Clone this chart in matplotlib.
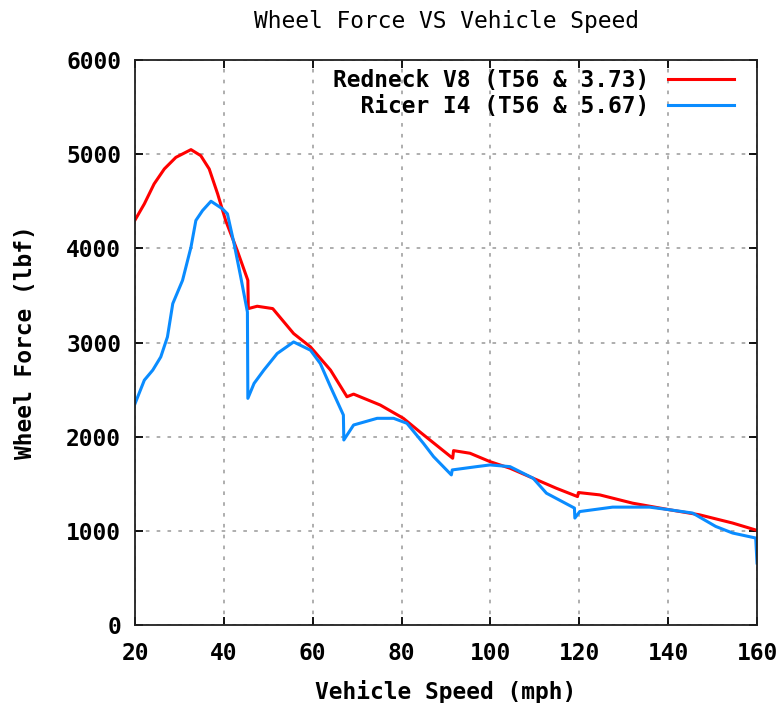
import matplotlib
matplotlib.use('Agg')
import matplotlib.pyplot as plt

# curves (mph, lbf)
speed_v8 = [20, 22.1, 24.3, 26.6, 29.2, 32.6, 34.8, 36.7, 38.6, 40.4,
            43.0, 45.4, 45.5, 47.5, 51.0, 55.7, 59.5, 64.0, 67.5, 67.7,
            69.2, 75.2, 80.4, 84.5, 91.5, 91.7, 95.4, 99.9, 104.4, 109.6,
            114.8, 119.6, 119.8, 124.6, 132.0, 140.3, 147.0, 154.5, 160]
force_v8 = [4300, 4472, 4684, 4843, 4966, 5048, 4984, 4843, 4578, 4296,
            3978, 3660, 3360, 3385, 3360, 3095, 2953, 2707, 2440, 2424,
            2452, 2336, 2195, 2036, 1771, 1852, 1824, 1735, 1665, 1559,
            1453, 1364, 1407, 1382, 1294, 1224, 1171, 1083, 1005]

speed_i4 = [20, 22.1, 24.0, 25.8, 27.3, 28.5, 30.7, 32.6, 33.7, 35.2,
            37.1, 39.7, 40.8, 42.3, 43.8, 45.3, 45.4, 46.8, 49.0, 52.0,
            55.7, 59.5, 61.7, 64.0, 66.9, 67.0, 69.2, 74.5, 78.2, 81.2,
            84.9, 87.2, 91.2, 91.4, 96.9, 99.9, 104.4, 109.6, 112.6, 118.9,
            119.0, 120.1, 127.5, 135.8, 140.3, 145.5, 150.7, 154.5, 159.7, 160]
force_i4 = [2350, 2600, 2707, 2847, 3059, 3413, 3660, 4013, 4296, 4401,
            4500, 4419, 4366, 4049, 3695, 3324, 2407, 2566, 2707, 2883,
            3006, 2918, 2777, 2530, 2230, 1965, 2124, 2195, 2195, 2142,
            1930, 1788, 1594, 1647, 1682, 1700, 1682, 1559, 1400, 1242,
            1136, 1205, 1252, 1252, 1224, 1189, 1047, 977, 924, 659]

label_v8 = 'Redneck V8 (T56 & 3.73)'
label_i4 = '  Ricer I4 (T56 & 5.67)'
x_ticks = [20, 40, 60, 80, 100, 120, 140, 160]
y_ticks = [0, 1000, 2000, 3000, 4000, 5000, 6000]

plt.rcParams['font.family'] = ['DejaVu Sans Mono']
fs = 16.5

fig = plt.figure(figsize=(7.84, 7.03), dpi=100)
ax = fig.add_axes([0.1722, 0.1109, 0.7934, 0.8038])

ax.plot(speed_v8, force_v8, color='#ff0000', lw=2.2, label=label_v8)
ax.plot(speed_i4, force_i4, color='#0a8cff', lw=2.2, label=label_i4)

ax.set_xlim(20, 160)
ax.set_ylim(0, 6000)
ax.set_xticks(x_ticks)
ax.set_yticks(y_ticks)
ax.tick_params(direction='in', length=6, width=1.3, top=True, right=True,
               labelsize=fs)
ax.tick_params(axis='x', pad=12)
ax.tick_params(axis='y', pad=10)
for lab in ax.get_xticklabels() + ax.get_yticklabels():
    lab.set_fontweight('bold')
for sp in ax.spines.values():
    sp.set_linewidth(1.3)
    sp.set_color('#202020')

ax.grid(True, color='#a8a8a8', lw=1.3, linestyle=(0, (2, 4)))

ax.set_title('Wheel Force VS Vehicle Speed', fontsize=fs, pad=23)
ax.set_xlabel('Vehicle Speed (mph)', fontsize=fs, fontweight='bold')
ax.set_ylabel('Wheel Force (lbf)', fontsize=fs, fontweight='bold')
ax.xaxis.set_label_coords(0.5, -0.097)
ax.yaxis.set_label_coords(-0.158, 0.5)

ax.legend(loc='upper right', bbox_to_anchor=(1.0, 1.025), frameon=False,
          markerfirst=False, handlelength=2.9, handletextpad=0.8,
          labelspacing=0.14, borderaxespad=0.7, borderpad=0.3,
          prop={'family': 'DejaVu Sans Mono', 'weight': 'bold', 'size': fs})

plt.savefig('out.png', dpi=100)
